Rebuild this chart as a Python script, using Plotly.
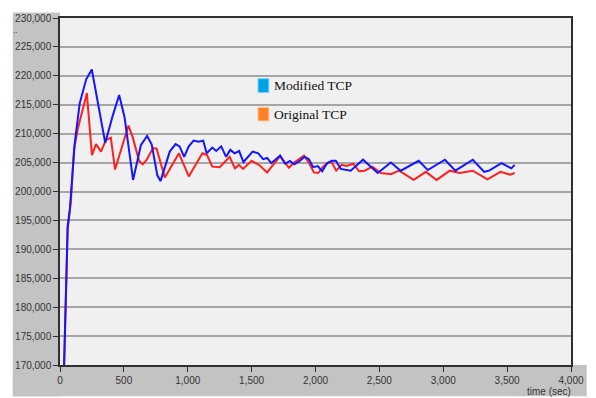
import plotly.graph_objects as go

# Modified TCP (blue)
mod_t = [0, 60, 77, 115, 154, 205, 249, 333, 354, 410, 463, 505, 572, 633, 682, 718, 762, 787,
         859, 905, 936, 972, 1008, 1046, 1085, 1121, 1148, 1192, 1223, 1262, 1300, 1333, 1367,
         1402, 1436, 1508, 1552, 1590, 1621, 1654, 1723, 1762, 1800, 1833, 1872, 1915, 1948,
         1982, 2018, 2052, 2090, 2128, 2159, 2198, 2275, 2372, 2487, 2590, 2667, 2808, 2879,
         3013, 3095, 3231, 3321, 3359, 3456, 3533, 3559]
mod_v = [143000, 194000, 196900, 208300, 215200, 219400, 221100, 210900, 208400, 212900, 216700,
         212900, 202000, 208000, 209600, 208100, 202800, 201800, 206900, 208200, 207800, 206000,
         207800, 208800, 208600, 208800, 206600, 207600, 207000, 207800, 206000, 207200, 206600,
         207000, 205100, 206900, 206600, 205600, 205800, 204900, 206200, 204800, 205300, 204700,
         205200, 206000, 205600, 204200, 204400, 203500, 204900, 205300, 205300, 203900, 203600,
         205500, 203200, 205000, 203600, 205300, 203700, 205500, 203600, 205500, 203400, 203600,
         204900, 204000, 204600]

# Original TCP (red)
orig_t = [0, 60, 85, 110, 141, 210, 250, 282, 321, 359, 398, 431, 536, 569, 619, 648, 679, 728,
          756, 821, 931, 1008, 1064, 1115, 1151, 1192, 1250, 1328, 1369, 1400, 1433, 1500, 1564,
          1621, 1723, 1792, 1833, 1910, 1948, 1987, 2021, 2059, 2102, 2128, 2162, 2205, 2244,
          2295, 2341, 2385, 2444, 2513, 2590, 2654, 2769, 2864, 2948, 3052, 3128, 3231, 3346,
          3448, 3525, 3559]
orig_v = [142000, 193500, 198200, 207300, 211000, 217000, 206300, 208200, 206900, 208900, 209300,
          203800, 211400, 209400, 205300, 204700, 205500, 207500, 207400, 202400, 206600, 202600,
          204700, 206600, 206300, 204300, 204200, 206000, 204000, 204600, 203900, 205300, 204500,
          203300, 206100, 204100, 205000, 206200, 205000, 203300, 203200, 204300, 205000, 205000,
          203600, 204600, 204400, 204800, 203500, 203600, 204300, 203200, 203000, 203600, 202000,
          203400, 202000, 203600, 203200, 203600, 202100, 203400, 202900, 203200]

legend_names = ["Modified TCP", "Original TCP"]
legend_colors = ["#00a2e8", "#ff7f27"]
x_title = "time (sec)"

W, H = 596, 398
L, R, T, B = 60, 16, 17.5, 31.5
pw, ph = W - L - R, H - T - B

def px2x(px):
    return (px - L) / pw

def py2y(py):
    return (H - B - py) / ph

fig = go.Figure()
fig.add_trace(go.Scatter(x=orig_t, y=orig_v, mode="lines", name=legend_names[1],
                         line=dict(color="#ff2020", width=2), showlegend=False))
fig.add_trace(go.Scatter(x=mod_t, y=mod_v, mode="lines", name=legend_names[0],
                         line=dict(color="#1515ff", width=2), showlegend=False))

shapes = [
    dict(type="rect", xref="paper", yref="paper", x0=px2x(12), x1=px2x(L), y0=py2y(H), y1=py2y(12),
         fillcolor="#c3c3c3", line_width=0, layer="below"),
    dict(type="rect", xref="paper", yref="paper", x0=px2x(12), x1=px2x(W), y0=py2y(H), y1=py2y(H - B),
         fillcolor="#c3c3c3", line_width=0, layer="below"),
    dict(type="rect", xref="paper", yref="paper", x0=px2x(261.5), x1=px2x(272.5), y0=py2y(92.5), y1=py2y(78.5),
         fillcolor=legend_colors[0], line=dict(color="#7fd0f3", width=1)),
    dict(type="rect", xref="paper", yref="paper", x0=px2x(261.5), x1=px2x(272.5), y0=py2y(121), y1=py2y(107.5),
         fillcolor=legend_colors[1], line=dict(color="#ffbf93", width=1)),
]

annotations = [
    dict(text=legend_names[0], xref="paper", yref="paper", x=px2x(275.5), y=py2y(85.5),
         xanchor="left", yanchor="middle", showarrow=False,
         font=dict(family="Liberation Serif", size=13.5, color="#111")),
    dict(text=legend_names[1], xref="paper", yref="paper", x=px2x(275.5), y=py2y(114.5),
         xanchor="left", yanchor="middle", showarrow=False,
         font=dict(family="Liberation Serif", size=13.5, color="#111")),
    dict(text=x_title, xref="paper", yref="paper", x=px2x(582), y=py2y(393),
         xanchor="right", yanchor="middle", showarrow=False,
         font=dict(family="Liberation Sans", size=10, color="#333")),
    dict(text="..", xref="paper", yref="paper", x=px2x(14), y=py2y(30),
         xanchor="center", yanchor="middle", showarrow=False,
         font=dict(family="Liberation Sans", size=8, color="#222")),
]

fig.update_layout(
    width=W, height=H,
    margin=dict(l=L, r=R, t=T, b=B, pad=0),
    paper_bgcolor="white",
    plot_bgcolor="#f0f0f0",
    shapes=shapes,
    annotations=annotations,
    font=dict(family="Liberation Sans", size=10, color="#333"),
    showlegend=False,
)
fig.update_xaxes(range=[0, 4000], tickvals=list(range(0, 4001, 500)), tickformat=",d",
                 showgrid=False, zeroline=False, showline=True, linecolor="#303030", linewidth=1.5,
                 mirror=True, ticks="outside", ticklen=5, tickcolor="#303030",
                 tickfont=dict(size=10, color="#333"))
fig.update_yaxes(range=[170000, 230000], tickvals=list(range(170000, 230001, 5000)), tickformat=",d",
                 showgrid=True, gridcolor="#a6a6a6", gridwidth=1.5, zeroline=False,
                 showline=True, linecolor="#303030", linewidth=1.5, mirror=True,
                 ticks="outside", ticklen=5, tickcolor="#303030",
                 tickfont=dict(size=10, color="#333"))

fig.write_html("out.html")
